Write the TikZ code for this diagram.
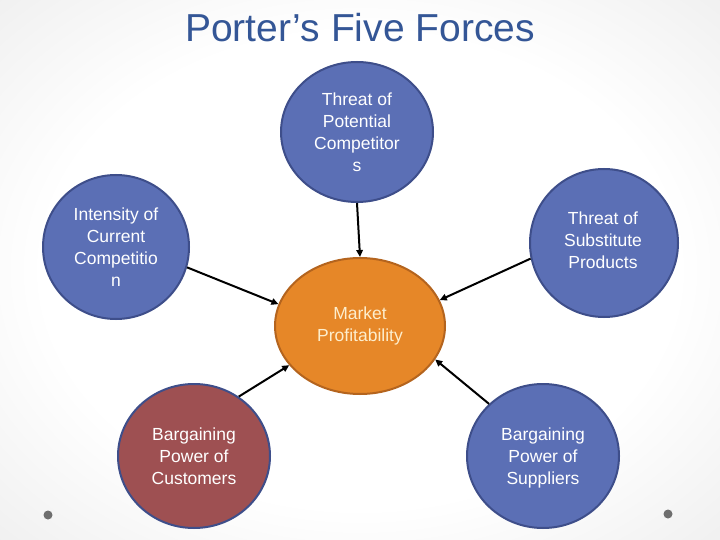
\documentclass[tikz,border=0pt]{standalone}
\usepackage{fontspec}
\setmainfont{Liberation Sans}
\usetikzlibrary{shapes.geometric,arrows.meta}
\definecolor{forceblue}{RGB}{91,111,181}
\definecolor{forceblueline}{RGB}{62,78,138}
\definecolor{marketorange}{RGB}{230,135,40}
\definecolor{marketline}{RGB}{180,100,30}
\definecolor{custred}{RGB}{158,80,82}
\definecolor{titleblue}{RGB}{52,86,150}
\definecolor{cream}{RGB}{253,238,205}
\definecolor{dotgray}{RGB}{110,110,110}
\pgfdeclareradialshading{bgshade}{\pgfpoint{0bp}{0bp}}{color(0bp)=(white); color(22bp)=(white); color(50bp)=(black!12); color(71bp)=(black!24)}
\tikzset{
  force/.style={ellipse, draw=forceblueline, line width=2pt, fill=forceblue, inner sep=0pt,
    text=white, align=center, font=\fontsize{17.5}{22}\selectfont},
  market/.style={ellipse, draw=marketline, line width=2pt, fill=marketorange, inner sep=0pt,
    text=cream, align=center, font=\fontsize{17.5}{22}\selectfont},
  forcetext/.style={text=white, align=center, font=\fontsize{17.5}{22}\selectfont},
  link/.style={line width=2pt, -{Triangle[length=7pt,width=6.5pt]}},
  dot/.style={circle, fill=dotgray, inner sep=0pt, minimum size=9pt}
}
\begin{document}
\begin{tikzpicture}[x=1pt,y=-1pt]
\useasboundingbox (0,0) rectangle (720,540);
\path[shading=bgshade] (0,0) rectangle (720,540);
\node[anchor=base, text=titleblue, font=\fontsize{39}{44}\selectfont] (title) at (360,42) {Porter’s Five Forces};
\node[force, minimum width=152pt, minimum height=140pt] (top) at (357,132) {Threat of\\Potential\\Competitor\\s};
\node[force, minimum width=146pt, minimum height=144pt] (left) at (116,247) {Intensity of\\Current\\Competitio\\n};
\node[force, minimum width=148pt, minimum height=148pt] (right) at (604,243) {};
\node[forcetext] (righttext) at (603,240) {Threat of\\Substitute\\Products};
\node[market, minimum width=170pt, minimum height=136pt] (mkt) at (360,326) {Market\\Profitability};
\node[force, fill=custred, minimum width=152pt, minimum height=144pt] (cust) at (194,456) {Bargaining\\Power of\\Customers};
\node[force, minimum width=152pt, minimum height=144pt] (supp) at (543,456) {};
\node[forcetext] (supptext) at (543,458) {Bargaining\\Power of\\Suppliers};
\draw[link] (top.south) -- (mkt.north);
\draw[link] (left.-16) -- (mkt.165);
\draw[link] (right.-168) -- (mkt.18);
\draw[link] (cust.53) -- (mkt.-151);
\draw[link] (supp.136) -- (mkt.-24);
\node[dot] (dl) at (48,515) {};
\node[dot] (dr) at (668,514) {};
\end{tikzpicture}
\end{document}
